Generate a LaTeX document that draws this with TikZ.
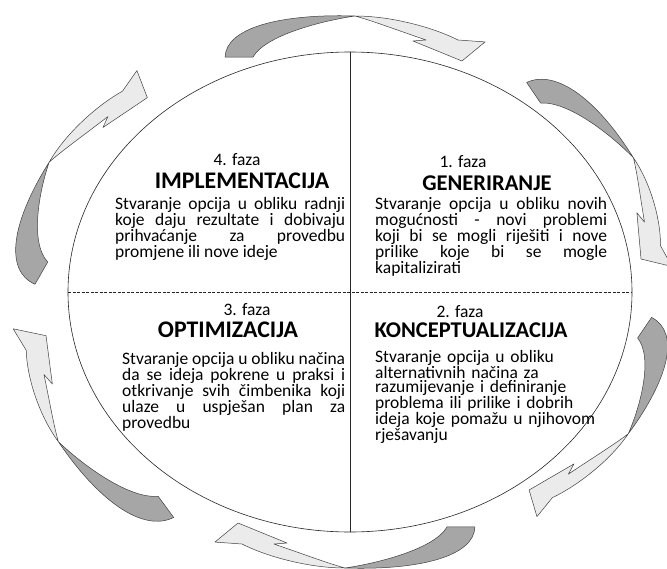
\documentclass[tikz,border=0pt]{standalone}
\usepackage{fontspec}
\setmainfont{Carlito}
\usepackage{tikz}
\usetikzlibrary{positioning}
\hyphenpenalty=10000
\tikzset{
	backside/.style={fill=black!35,draw=black!75,line width=0.5pt,line join=round},
	frontside/.style={fill=black!8,draw=black!75,line width=0.5pt,line join=round},
	phasenum/.style={inner sep=0pt,text height=11pt,text depth=0pt,font=\fontsize{17.5}{14.3}\selectfont},
	phasename/.style={inner sep=0pt,text height=14.5pt,text depth=0pt,font=\fontsize{22.5}{24}\selectfont\bfseries},
	bigname/.style={phasename,text height=15.3pt,font=\fontsize{23.8}{24}\selectfont\bfseries},
	phasetext/.style={inner sep=0pt,anchor=base west,font=\fontsize{17.5}{14.3}\selectfont},
	ring/.style={black!85,line width=0.6pt}
}
% #1 = size, #2 = angle (counter-clockwise, 0 = top)
\newcommand\cyclearrow[2][1]{%
	\begin{scope}[shift={(350,292)},xscale=282,yscale=-240,rotate=-#2,scale=#1]
		\filldraw[backside] (-0.443,0.979) .. controls (-0.44,1.10) and (-0.25,1.16) .. (0.018,1.15)
			.. controls (-0.10,1.13) and (-0.30,1.07) .. (-0.344,0.979) -- cycle;
		\filldraw[frontside] (0.018,1.15) .. controls (0.15,1.15) and (0.30,1.10) .. (0.383,1.05)
			-- (0.479,1.042) -- (0.397,0.9625) -- (0.223,1.046) -- (0.27,1.05)
			.. controls (0.17,1.09) and (0.08,1.13) .. (0.018,1.15) -- cycle;
	\end{scope}}

\begin{document}
\begin{tikzpicture}[x=1pt,y=-1pt]
	\useasboundingbox[fill=white] (0,0) rectangle (667,568);
	
	%ARROWS
	\cyclearrow{0}
	\cyclearrow{-60}
	\cyclearrow{-120}
	\cyclearrow{180}
	\cyclearrow[1.05]{122}
	\cyclearrow[1.04]{64}
	
	%CIRCLE
	\draw[ring] (350,292) ellipse [x radius=282,y radius=240];
	\draw[ring] (350,52)--(350,532);
	\draw[ring,dash pattern=on 3pt off 1.5pt] (68,292)--(632,292);
	
	%PHASE 4
	\node[phasenum] (num4) at (237,160) {4. faza};
	\node[bigname] (name4) at (242,181) {IMPLEMENTACIJA};
	\node[phasetext,text width=230pt,align=justify] (text4) at (115,209) {%
		Stvaranje opcija u obliku radnji\linebreak
		koje daju rezultate i dobivaju\linebreak
		prihvaćanje za provedbu\linebreak
		promjene ili nove ideje};
	
	%PHASE 1
	\node[phasenum] (num1) at (463,162) {1. faza};
	\node[phasename] (name1) at (487,183) {GENERIRANJE};
	\node[phasetext,text width=232pt,align=justify] (text1) at (375,209) {%
		Stvaranje opcija u obliku novih\linebreak
		mogućnosti - novi problemi\linebreak
		koji bi se mogli riješiti i nove\linebreak
		prilike koje bi se mogle\linebreak
		kapitalizirati};
	
	%PHASE 3
	\node[phasenum] (num3) at (247,310) {3. faza};
	\node[bigname] (name3) at (228,330) {OPTIMIZACIJA};
	\node[phasetext,text width=223pt,align=justify] (text3) at (122,364) {%
		Stvaranje opcija u obliku načina\linebreak
		da se ideja pokrene u praksi i\linebreak
		otkrivanje svih čimbenika koji\linebreak
		ulaze u uspješan plan za\linebreak
		provedbu};
	
	%PHASE 2
	\node[phasenum] (num2) at (460,312) {2. faza};
	\node[phasename] (name2) at (471,330) {KONCEPTUALIZACIJA};
	\node[phasetext,text width=240pt,align=left] (text2) at (375,362) {%
		Stvaranje opcija u obliku\\
		alternativnih načina za\\
		razumijevanje i definiranje\\
		problema ili prilike i dobrih\\
		ideja koje pomažu u njihovom\\
		rješavanju};
\end{tikzpicture}
\end{document}
